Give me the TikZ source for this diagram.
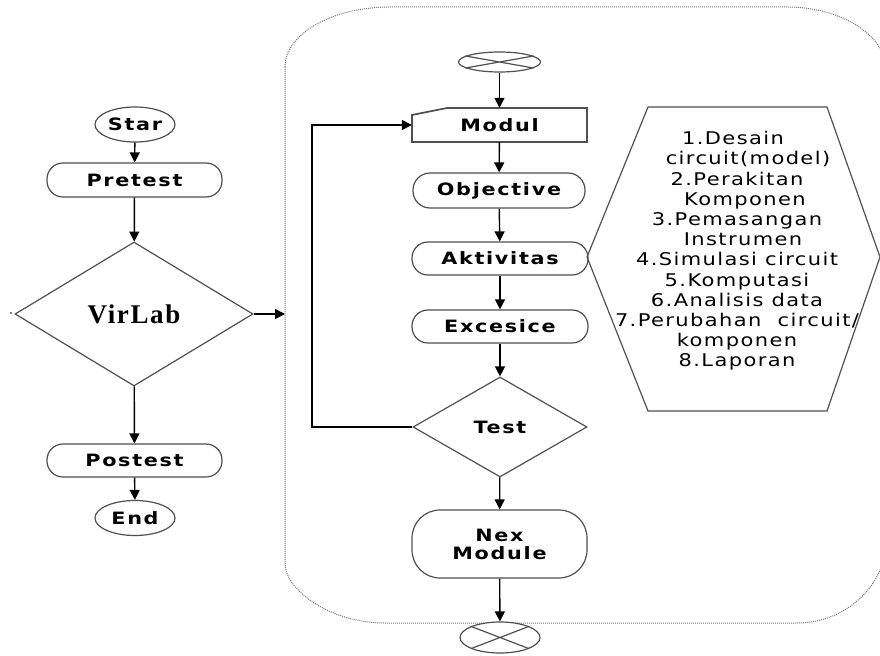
\documentclass[tikz,border=0pt]{standalone}
\usepackage{fontspec}
\setmainfont{DejaVu Sans}
\newfontfamily\lblfont[FakeStretch=1.22,LetterSpace=10]{DejaVu Sans}
\newfontfamily\hexfont[FakeStretch=1.2,LetterSpace=8]{DejaVu Sans}
\newfontfamily\vlfont[LetterSpace=6]{Liberation Serif}
\usetikzlibrary{shapes.geometric,arrows.meta}
\definecolor{shapegray}{RGB}{80,80,80}
\definecolor{dotgray}{RGB}{120,120,120}
\begin{document}
\begin{tikzpicture}[x=1bp,y=-1bp,
  shp/.style={draw=shapegray, line width=1.2bp, fill=white},
  lbl/.style={font=\lblfont\bfseries\fontsize{17bp}{19bp}\selectfont},
  term/.style={shp, lbl, ellipse, minimum width=80bp, minimum height=35bp, inner sep=0pt},
  proc/.style={shp, lbl, rectangle, rounded corners=16bp, minimum width=175bp, minimum height=34bp, inner sep=0pt},
  dec/.style={shp, diamond, inner sep=0pt},
  cx/.style={shp, ellipse, inner sep=0pt},
  arr/.style={line width=1.4bp, draw=black, -{Triangle[length=10bp,width=10bp]}}
]
\useasboundingbox (0,0) rectangle (880,656);

% big dotted rounded frame
\draw[dotgray, line width=1bp, dash pattern=on 1bp off 1bp]
  (285,67) .. controls (285,34) and (332,7) .. (390,7)
  -- (787,7) .. controls (842,7) and (887,36) .. (887,72)
  -- (887,537) .. controls (887,584) and (847,623) .. (797,623)
  -- (385,623) .. controls (330,623) and (285,590) .. (285,563) -- cycle;

% left column
\node[term] (star) at (135,124.5) {Star};
\node[proc] (pretest) at (134.5,180) {Pretest};
\node[dec, minimum width=238bp, minimum height=144bp,
      font=\vlfont\bfseries\fontsize{27bp}{29bp}\selectfont] (virlab) at (134,314) {VirLab};
\node[proc, minimum height=33bp] (postest) at (134.5,460.5) {Postest};
\node[term] (end) at (135,518) {End};
\fill[shapegray] (11,313) circle (1.2bp);
\coordinate (frameW) at (285,314);

\draw[arr] (star) -- (pretest);
\draw[arr] (pretest) -- (virlab);
\draw[arr] (virlab) -- (postest);
\draw[arr] (postest) -- (end);
\draw[arr] (virlab.east) -- (frameW);

% right column
\node[cx, minimum width=82bp, minimum height=20bp] (ctop) at (499.5,62) {};
\draw[shapegray, line width=1.2bp] (ctop.170) -- (ctop.-10) (ctop.10) -- (ctop.190);
\node[lbl, minimum width=175bp, minimum height=34bp, inner sep=0pt] (modul) at (499.5,125) {Modul};
\draw[shapegray, line width=1.7bp] (412,142) -- (412,115) -- (447,108) -- (587,108) -- (587,142) -- cycle;
\node[proc, minimum width=172bp, minimum height=35bp, rounded corners=17bp] (objective) at (499,190.5) {Objective};
\node[proc, minimum width=176bp, minimum height=33bp] (aktivitas) at (500,258.5) {Aktivitas};
\node[proc, minimum width=176bp, minimum height=33bp] (excesice) at (500,326.5) {Excesice};
\node[dec, lbl, minimum width=174bp, minimum height=100bp] (test) at (500,427) {Test};
\node[proc, minimum width=175bp, minimum height=68bp, rounded corners=28bp, align=center] (nex) at (499.5,544) {Nex\\[-1bp]Module};
\node[cx, minimum width=80bp, minimum height=31bp] (cbot) at (500,637.5) {};
\draw[shapegray, line width=1.2bp] (cbot.159) -- (cbot.-21) (cbot.21) -- (cbot.201);

\draw[arr] (ctop) -- (modul);
\draw[arr] (modul) -- (objective);
\draw[arr] (objective) -- (aktivitas);
\draw[arr] (aktivitas) -- (excesice);
\draw[arr] (excesice) -- (test);
\draw[arr] (test) -- (nex);
\draw[arr] (nex) -- (cbot);
\coordinate (loopc) at (312,427);
\draw[arr] (test.west) -- (loopc) |- (modul.west);

% hexagon with activities
\draw[shapegray, line width=1.2bp] (648,107) -- (827,107) -- (880,257) -- (827,411) -- (648,411) -- (587,257) -- cycle;
\node[align=center, inner sep=0pt, font=\hexfont\fontsize{17.5bp}{20.2bp}\selectfont] (acts) at (737,251)
  {1.Desain\hspace*{8bp}\\
   \hspace*{22bp}circuit(model)\\
   2.Perakitan\\
   \hspace*{16bp}Komponen\\
   3.Pemasangan\\
   \hspace*{12bp}Instrumen\\
   4.Simulasi circuit\\
   5.Komputasi\\
   6.Analisis data\\
   7.Perubahan\ \ circuit/\\
   komponen\\
   8.Laporan};
\end{tikzpicture}
\end{document}
